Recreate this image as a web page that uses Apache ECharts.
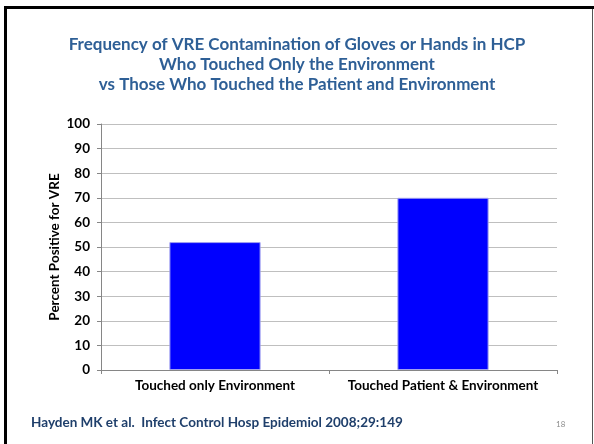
<!DOCTYPE html>
<html>
<head>
<meta charset="utf-8">
<script src="https://cdn.jsdelivr.net/npm/echarts@6/dist/echarts.min.js"></script>
<style>
  html, body { margin: 0; padding: 0; background: #fff; }
  #chart { width: 594px; height: 444px; }
</style>
</head>
<body>
<div id="chart"></div>
<script>
// data
var categories = ['Touched only Environment', 'Touched Patient & Environment'];
var percentPositive = [52, 70];
var yTicks = [0, 100, 10];  // min, max, interval

var titleLines = [
  'Frequency of VRE Contamination of Gloves or Hands in HCP',
  'Who Touched Only the Environment',
  'vs Those Who Touched the Patient and Environment'
];
var citation = 'Hayden MK et al.  Infect Control Hosp Epidemiol 2008;29:149';
var slideNo = '18';

var font = 'Lato, "Open Sans", sans-serif';

var myChart = echarts.init(document.getElementById('chart'));
var option = {
  backgroundColor: '#fff',
  animation: false,
  title: [{
    text: titleLines.join('\n'),
    left: 'center',
    top: 30,
    textStyle: {
      fontFamily: font,
      fontSize: 17,
      fontWeight: 'bold',
      color: '#2E5F96',
      lineHeight: 20
    }
  }, {
    text: citation,
    left: 26,
    top: 411,
    textStyle: {
      fontFamily: font,
      fontSize: 13.5,
      fontWeight: 'bold',
      color: '#1F3F6B'
    }
  }],
  grid: {
    left: 101,
    right: 37,
    top: 124,
    bottom: 74,
    containLabel: false
  },
  xAxis: {
    type: 'category',
    data: categories,
    axisLine: { lineStyle: { color: '#868686', width: 1 } },
    axisTick: { show: true, length: 4, lineStyle: { color: '#868686' } },
    axisLabel: {
      interval: 0,
      hideOverlap: false,
      fontFamily: font,
      fontSize: 13.5,
      fontWeight: 'bold',
      color: '#000',
      margin: 9
    }
  },
  yAxis: {
    type: 'value',
    min: yTicks[0],
    max: yTicks[1],
    interval: yTicks[2],
    name: 'Percent Positive for VRE',
    nameLocation: 'middle',
    nameGap: 39,
    nameMoveOverlap: false,
    nameTextStyle: {
      fontFamily: font,
      fontSize: 13.5,
      fontWeight: 'bold',
      color: '#000'
    },
    axisLine: { show: true, lineStyle: { color: '#868686', width: 1 } },
    axisTick: { show: true, length: 4, lineStyle: { color: '#868686' } },
    splitLine: { lineStyle: { color: '#BFBFBF', width: 1 } },
    axisLabel: {
      fontFamily: font,
      fontSize: 13.5,
      fontWeight: 'bold',
      color: '#000',
      margin: 11
    }
  },
  series: [{
    type: 'bar',
    data: percentPositive,
    barWidth: '40%',
    itemStyle: {
      color: '#0000FF',
      borderColor: '#A0A0F0',
      borderWidth: 1
    }
  }],
  graphic: [
    // slide frame
    { type: 'rect', shape: { x: 4, y: 6, width: 590, height: 3 }, style: { fill: '#000' } },
    { type: 'rect', shape: { x: 4, y: 6, width: 3, height: 438 }, style: { fill: '#000' } },
    { type: 'rect', shape: { x: 592, y: 9, width: 1, height: 435 }, style: { fill: '#555' } },
    {
      type: 'text',
      left: 556,
      top: 420,
      style: {
        text: slideNo,
        fontFamily: font,
        fontSize: 8,
        fill: '#8C8C8C'
      }
    }
  ]
};
myChart.setOption(option);
window.onresize = myChart.resize;
</script>
</body>
</html>
